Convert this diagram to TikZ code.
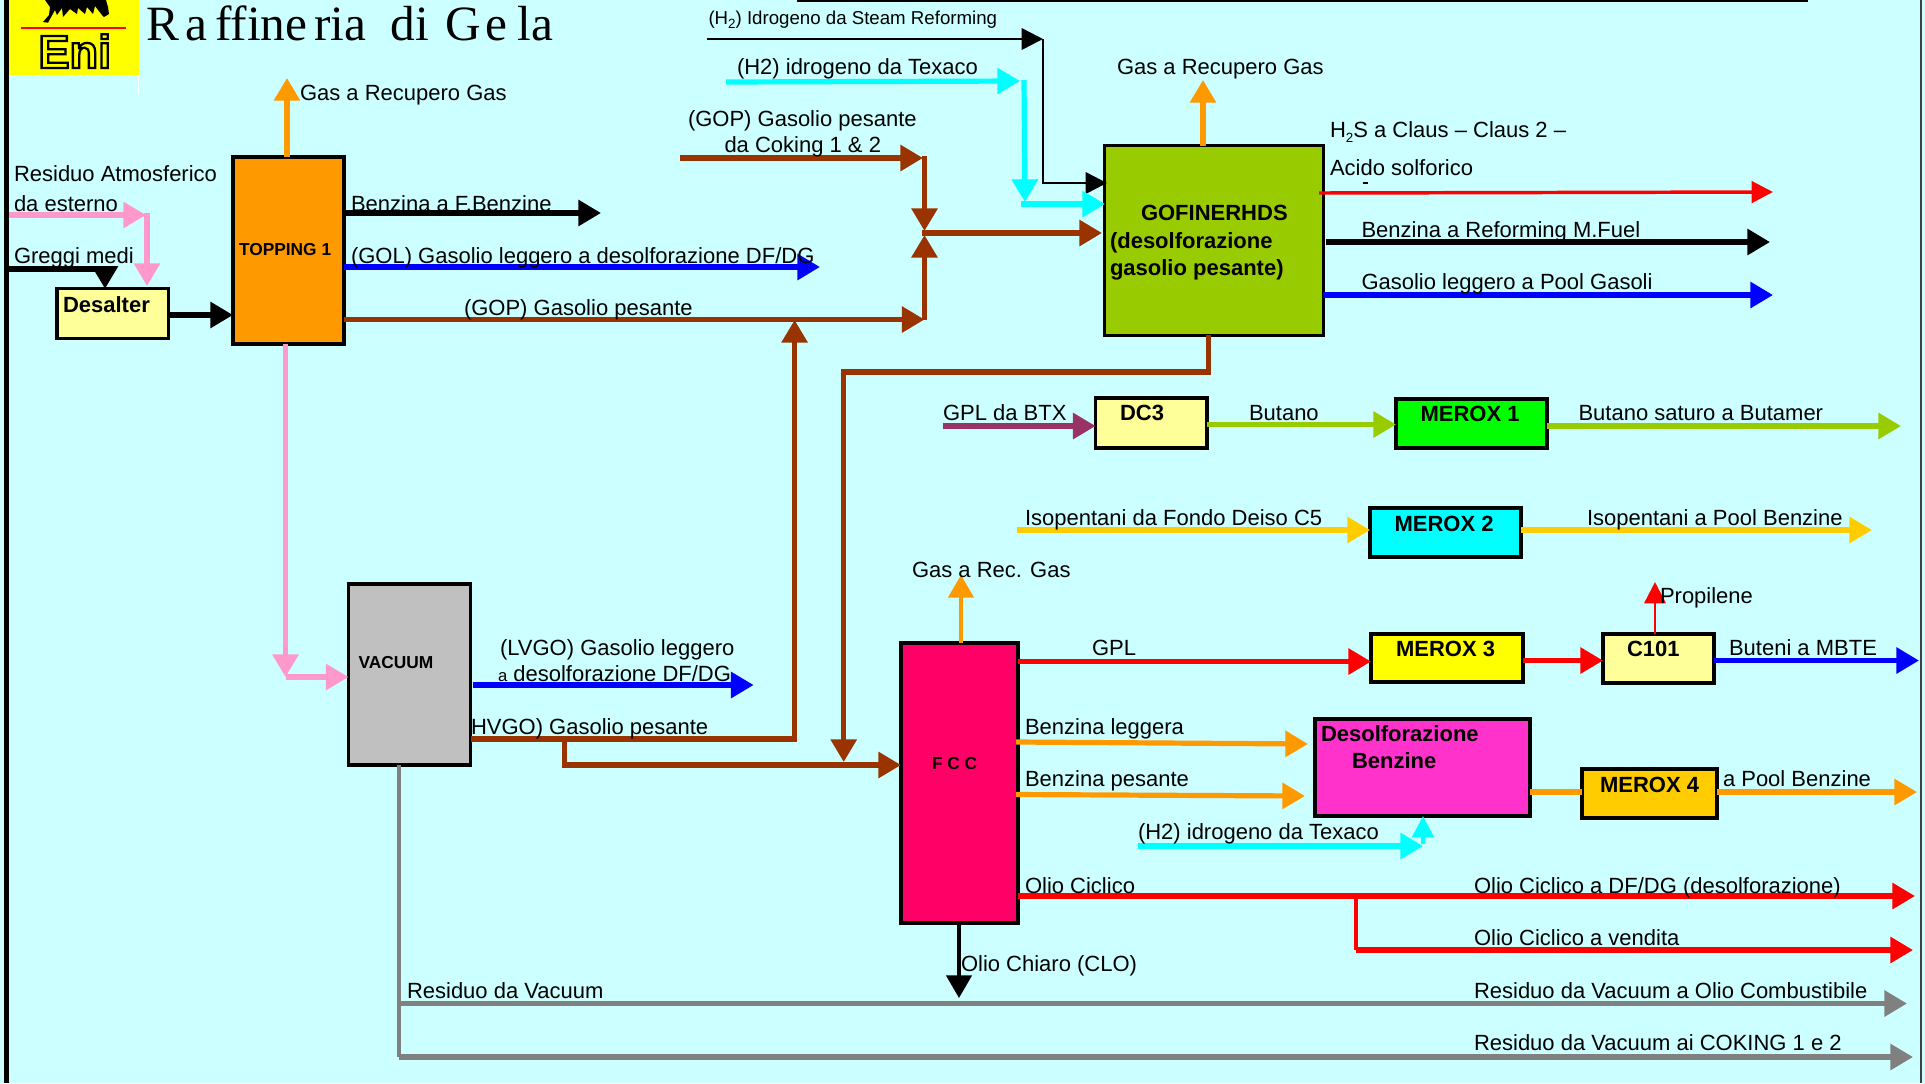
\documentclass[tikz,border=0pt]{standalone}
\usepackage{fontspec}
\setmainfont{Liberation Sans}
\newfontfamily\titlefont{Liberation Serif}
\usetikzlibrary{arrows.meta}
\definecolor{sfondo}{HTML}{CCFFFF}
\definecolor{giallino}{HTML}{FFFF99}
\definecolor{giallo}{HTML}{FFFF00}
\definecolor{ciano}{HTML}{00FFFF}
\definecolor{arancio}{HTML}{FF9900}
\definecolor{oro}{HTML}{FFCC00}
\definecolor{oliva}{HTML}{99CC00}
\definecolor{marrone}{HTML}{993300}
\definecolor{rosa}{HTML}{FF99CC}
\definecolor{fucsia}{HTML}{FF33CC}
\definecolor{cremisi}{HTML}{FF0066}
\definecolor{prugna}{HTML}{993366}
\definecolor{grigio}{HTML}{808080}
\definecolor{argento}{HTML}{C0C0C0}
\tikzset{
  unit/.style={draw=black,line width=2.3pt,anchor=north west,inner sep=0pt,outer sep=0pt},
  lbl/.style={anchor=base west,inner sep=0pt,outer sep=0pt,font=\fontsize{16.5pt}{18pt}\selectfont},
  lblsmall/.style={lbl,font=\fontsize{14pt}{16pt}\selectfont},
  lblbold/.style={lbl,font=\fontsize{16.5pt}{18pt}\selectfont\bfseries},
  lblboldsmall/.style={lbl,font=\fontsize{13pt}{15pt}\selectfont\bfseries},
  pipe/.style={line width=3.9pt},
  pipethin/.style={line width=1.9pt},
  flow/.style={pipe,-{Triangle[length=17pt,width=19pt]}},
  flowthin/.style={pipethin,-{Triangle[length=16pt,width=16pt]}}
}
\begin{document}
\begin{tikzpicture}[x=0.75pt,y=0.75pt,yscale=-1,xscale=1]
\useasboundingbox (0,0) rectangle (1925,1083);
\fill [sfondo] (0,0) rectangle (1925,1083);

%Frame
\fill [black] (4,0) rectangle (8.5,1083);
\fill [black!75] (1919.5,0) rectangle (1922,1083);
\fill [black] (797,0) rectangle (1808,2);

%Logo
\fill [giallo] (9,0) rectangle (139,75);
\fill [white] (138,75) rectangle (139,94);
\fill [black] (45,0) -- (50,7) -- (49,15) -- (43,22) -- (48,22.7) -- (55,10) -- (57,15) -- (62,8) -- (63,17) -- (70,9) -- (77,14) -- (78,8) -- (85,14) -- (87,7) -- (93,14) -- (95,6) -- (102,15) -- (104,17) -- (109,14) -- (108,7) -- (106,0) -- cycle ;
\draw [red,line width=0.9pt] (21,28) -- (126,28) ;
\node (eni) [lbl,font=\fontsize{35pt}{36pt}\selectfont\bfseries] at (38.5,68) {\special{pdf:code q 1 Tr 1.7 w 0 0 0 RG}Eni\special{pdf:code Q}};
\node (titolo) [lbl,font=\fontsize{37pt}{40pt}\titlefont] at (146,40) {R\kern5.25pt a\kern5.6pt ffin\kern0pt e\kern5.2pt ria \kern9pt di \kern2.6pt G\kern3.7pt e\kern7.5pt la};

%Units
\node (topping) [unit,fill=arancio,minimum width=83.25pt,minimum height=140.25pt] at (233,157) {};
\node (desalter) [unit,fill=giallino,minimum width=83.7pt,minimum height=37pt] at (57,288.7) {};
\node (gofiner) [unit,fill=oliva,minimum width=163.9pt,minimum height=142pt] at (1104.5,145.7) {};
\node (vacuum) [unit,fill=argento,minimum width=91.5pt,minimum height=135.75pt] at (348.5,584) {};
\node (fcc) [unit,fill=cremisi,minimum width=87.75pt,minimum height=210pt] at (901,643) {};
\node (dcthree) [unit,fill=giallino,minimum width=83.55pt,minimum height=37.5pt] at (1095.6,398) {};
\node (meroxone) [unit,fill=green,minimum width=113.25pt,minimum height=36.75pt] at (1396,399) {};
\node (meroxtwo) [unit,fill=ciano,minimum width=113.25pt,minimum height=36.75pt] at (1370,508) {};
\node (meroxthree) [unit,fill=giallo,minimum width=114pt,minimum height=36pt] at (1371,634) {};
\node (cioi) [unit,fill=giallino,minimum width=83.25pt,minimum height=36.75pt] at (1603,634) {};
\node (desolf) [unit,fill=fucsia,minimum width=161.25pt,minimum height=72.75pt] at (1315,719) {};
\node (meroxfour) [unit,fill=oro,minimum width=101.25pt,minimum height=36.75pt] at (1582,769) {};

%Free ends
\coordinate (gastop) at (287,78);
\coordinate (residuoin) at (9,215);
\coordinate (residuoend) at (146,215);
\coordinate (residuodown) at (147,286);
\coordinate (greggiin) at (9,269);
\coordinate (greggiend) at (105,288.7);
\coordinate (saltin) at (233,315);
\coordinate (benzend) at (601,213);
\coordinate (golend) at (820,267);
\coordinate (gopend) at (924.5,319.5);
\coordinate (pinkbend) at (285.5,677);
\coordinate (cokin) at (680,158);
\coordinate (cokend) at (923,158);
\coordinate (cokdown) at (924.5,231);
\coordinate (gopup) at (924.5,235);
\coordinate (mixout) at (922,233);
\coordinate (mixin) at (1102,233);
\coordinate (sreformin) at (707,39);
\coordinate (sreformend) at (1043,39);
\coordinate (sreformbox) at (1107,183);
\coordinate (texin) at (726,82);
\coordinate (texend) at (1020,81);
\coordinate (texdown) at (1025,202);
\coordinate (texbox) at (1105,204);
\coordinate (gofgas) at (1203,80);
\coordinate (clausend) at (1773,192);
\coordinate (reformend) at (1770,242);
\coordinate (poolend) at (1773,295);
\coordinate (loopout) at (1208.6,372);
\coordinate (loopdown) at (843.7,762);
\coordinate (hvgoup) at (794.6,320);
\coordinate (hvgobend) at (564.7,739);
\coordinate (fccin) at (901,765);
\coordinate (lvgoend) at (753.6,685);
\coordinate (resone) at (1907,1003.5);
\coordinate (restwo) at (1913,1057);
\coordinate (fccgas) at (961,575);
\coordinate (gplin) at (1371,661.5);
\coordinate (cioiin) at (1603,660.5);
\coordinate (propend) at (1655,582);
\coordinate (butend) at (1919,660.5);
\coordinate (legstart) at (1016,742);
\coordinate (legend) at (1308,744);
\coordinate (pesstart) at (1016,794.5);
\coordinate (pesend) at (1305,796);
\coordinate (mfourend) at (1917,792);
\coordinate (tdesin) at (1138,846);
\coordinate (tdesend) at (1423,846);
\coordinate (tdesup) at (1423,816);
\coordinate (oliostart) at (1018,896);
\coordinate (olioend) at (1915,896);
\coordinate (olioturn) at (1356,896);
\coordinate (vendend) at (1913,950);
\coordinate (cloend) at (959,998);
\coordinate (gplbtx) at (943,426);
\coordinate (butanoin) at (1396,424.5);
\coordinate (saturoend) at (1901,426);
\coordinate (isoin) at (1017,530);
\coordinate (isoend) at (1872,530);

%Connectors
\draw [flow,arancio] (topping.north -| gastop) -- (gastop) ;
\draw [flow,rosa] (residuoin) -- (residuoend) ;
\draw [flow,rosa] (147,213) -- (residuodown) ;
\draw [flow,black] (greggiin) -| (greggiend) ;
\draw [flow,black] (desalter.east |- saltin) -- (saltin) ;
\draw [flow,black] (topping.east |- benzend) -- (benzend) ;
\draw [flow,blue] (topping.east |- golend) -- (golend) ;
\draw [flow,marrone] (topping.east |- gopend) -- (gopend) ;
\draw [flow,rosa] (pinkbend |- topping.south) -- (pinkbend) ;
\draw [flow,rosa] (pinkbend) -- (vacuum.west |- pinkbend) ;
\draw [flow,marrone] (cokin) -- (cokend) ;
\draw [flow,marrone] (924.5,156) -- (cokdown) ;
\draw [flow,marrone] (gopend) -- (gopup) ;
\draw [flow,marrone] (mixout) -- (mixin) ;
\draw [flowthin,black] (sreformin) -- (sreformend) ;
\draw [flowthin,black] (sreformend) |- (sreformbox) ;
\draw [flow,ciano] (texin) -- (texend) ;
\draw [flow,ciano] (1024,80) -- (texdown) ;
\draw [flow,ciano] (1021,204) -- (texbox) ;
\draw [flow,arancio] (gofiner.north -| gofgas) -- (gofgas) ;
\draw [flowthin,red,line width=2.6pt] (1319,193) -- (clausend) ;
\draw [flow,black] (1326,242) -- (reformend) ;
\draw [flow,blue] (gofiner.east |- poolend) -- (poolend) ;
\draw [flow,marrone] (gofiner.south -| loopout) |- (loopdown |- loopout) -- (loopdown) ;
\draw [flow,marrone] (vacuum.east |- hvgobend) -- (hvgoup |- hvgobend) -- (hvgoup) ;
\draw [flow,marrone] (hvgobend) |- (fccin) ;
\draw [flow,blue] (473,685) -- (lvgoend) ;
\draw [pipe,grigio,line width=3pt] (vacuum.south -| 399,0) -- (399,1057) ;
\draw [flow,grigio] (399,1003.5) -- (resone) ;
\draw [flow,grigio] (399,1057) -- (restwo) ;
\draw [flow,arancio,line width=2.8pt] (fcc.north -| fccgas) -- (fccgas) ;
\draw [flow,red] (fcc.east |- gplin) -- (gplin) ;
\draw [flow,red] (meroxthree.east |- cioiin) -- (cioiin) ;
\draw [flowthin,red] (cioi.north -| propend) -- (propend) ;
\draw [flow,blue] (cioi.east |- butend) -- (butend) ;
\draw [flow,arancio] (legstart) -- (legend) ;
\draw [flow,arancio] (pesstart) -- (pesend) ;
\draw [pipe,arancio] (desolf.east |- mfourend) -- (meroxfour.west |- mfourend) ;
\draw [flow,arancio] (meroxfour.east |- mfourend) -- (mfourend) ;
\draw [flow,ciano] (tdesin) -- (tdesend) ;
\draw [flowthin,ciano,line width=3pt] (1423,844) -- (tdesup) ;
\draw [flow,red] (oliostart) -- (olioend) ;
\draw [pipe,red,line width=2.6pt] (olioturn) -- (olioturn |- vendend) ;
\draw [flow,red] (olioturn |- vendend) -- (vendend) ;
\draw [flow,black,line width=2.6pt] (cloend |- fcc.south) -- (cloend) ;
\draw [flow,prugna] (gplbtx) -- (dcthree.west |- gplbtx) ;
\draw [flow,oliva] (dcthree.east |- butanoin) -- (butanoin) ;
\draw [flow,oliva] (meroxone.east |- saturoend) -- (saturoend) ;
\draw [flow,oro] (isoin) -- (meroxtwo.west |- isoin) ;
\draw [flow,oro] (meroxtwo.east |- isoend) -- (isoend) ;
\draw [black,line width=0.8pt] (1363,183) -- (1368,183) ;

% Text Node
\node (ttopping) [lblboldsmall] at (239,255) {TOPPING 1};
\node (tdesalter) [lblbold] at (63,312.5) {Desalter};
\node (tgofiner) [lblbold] at (1141,220) {GOFINERHDS};
\node (tgofinera) [lblbold] at (1110,248) {(desolforazione};
\node (tgofinerb) [lblbold] at (1110,275) {gasolio pesante)};
\node (tvacuum) [lblboldsmall] at (358.5,668.7) {VACUUM};
\node (tfcc) [lblboldsmall] at (932,769) {F C C};
\node (tdc) [lblbold] at (1120,420.7) {DC3};
\node (tmeroxone) [lblbold] at (1420.5,421) {MEROX 1};
\node (tmeroxtwo) [lblbold] at (1394.5,531.7) {MEROX 2};
\node (tmeroxthree) [lblbold] at (1396,656) {MEROX 3};
\node (tcioi) [lblbold] at (1627,656) {C101};
\node (tdesolf) [lblbold] at (1321,741) {Desolforazione};
\node (tdesolfb) [lblbold] at (1352,768) {Benzine};
\node (tmeroxfour) [lblbold] at (1600,792) {MEROX 4};
% Text Node
\node (lgastop) [lbl] at (300,100) {Gas a Recupero Gas};
\node (lresiduo) [lbl] at (14,181) {Residuo Atmosferico};
\node (lesterno) [lbl] at (14,211) {da esterno};
\node (lgreggi) [lbl] at (14,263) {Greggi medi};
\node (lbenz) [lbl] at (351,211) {Benzina a F.Benzine};
\node (lgol) [lbl] at (351,263) {(GOL) Gasolio leggero a desolforazione DF/DG};
\node (lgop) [lbl] at (464,315) {(GOP) Gasolio pesante};
\node (lsreform) [lblsmall] at (708.5,24) {(H\raisebox{-3.5pt}{\fontsize{10pt}{11pt}\selectfont 2}) Idrogeno da Steam Reforming};
\node (ltexaco) [lbl] at (737,74) {(H2) idrogeno da Texaco};
\node (lcoking) [lbl] at (688,126) {(GOP) Gasolio pesante};
\node (lcokingb) [lbl] at (724.5,152.5) {da Coking 1 \& 2};
\node (lgofgas) [lbl] at (1117,74) {Gas a Recupero Gas};
\node (lclaus) [lbl] at (1330,137) {H\raisebox{-4pt}{\fontsize{10pt}{11pt}\selectfont 2}S a Claus -- Claus 2 --};
\node (lacido) [lbl] at (1330,175.7) {Acido solforico};
\node (lreform) [lbl] at (1361.5,237.7) {Benzina a Reforming M.Fuel};
\node (lpool) [lbl] at (1361.5,289) {Gasolio leggero a Pool Gasoli};
\node (lgpl) [lbl] at (943,420) {GPL da BTX};
\node (lbutano) [lbl] at (1249,420) {Butano};
\node (lsaturo) [lbl] at (1578.5,420) {Butano saturo a Butamer};
\node (liso) [lbl] at (1025,525) {Isopentani da Fondo Deiso C5};
\node (lisob) [lbl] at (1587,525) {Isopentani a Pool Benzine};
\node (llvgo) [lbl] at (500,655) {(LVGO) Gasolio leggero};
\node (llvgob) [lbl] at (498,681) {{\fontsize{12.5pt}{14pt}\selectfont a} desolforazione DF/DG};
\node (lhvgo) [lbl] at (471,734.6) {HVGO) Gasolio pesante};
\node (lresvac) [lbl] at (407,998) {Residuo da Vacuum};
\node (lfccgas) [lbl] at (912,577) {Gas a Rec. Gas};
\node (lgplb) [lbl] at (1092,655) {GPL};
\node (lprop) [lbl] at (1660,603) {Propilene};
\node (lbuteni) [lbl] at (1729,655) {Buteni a MBTE};
\node (lleg) [lbl] at (1025,734) {Benzina leggera};
\node (lpes) [lbl] at (1025,786.5) {Benzina pesante};
\node (lapool) [lbl] at (1723,786.5) {a Pool Benzine};
\node (ltexb) [lbl] at (1138,839) {(H2) idrogeno da Texaco};
\node (lolio) [lbl] at (1025,893.5) {Olio Ciclico};
\node (loliob) [lbl] at (1474,893.5) {Olio Ciclico a DF/DG (desolforazione)};
\node (lolioc) [lbl] at (1474,945.5) {Olio Ciclico a vendita};
\node (lclo) [lbl] at (961,971) {Olio Chiaro (CLO)};
\node (lresa) [lbl] at (1474,998) {Residuo da Vacuum a Olio Combustibile};
\node (lresb) [lbl] at (1474,1050) {Residuo da Vacuum ai COKING 1 e 2};

\end{tikzpicture}
\end{document}
